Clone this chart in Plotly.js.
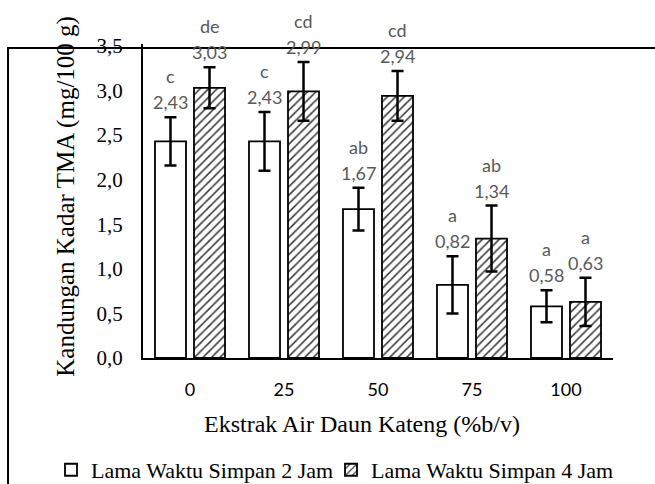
<!DOCTYPE html>
<html>
<head>
<meta charset="utf-8">
<script src="https://cdn.plot.ly/plotly-3.0.1.min.js"></script>
<style>html,body{margin:0;padding:0;background:#fff;}#chart{width:655px;height:484px;}</style>
</head>
<body>
<div id="chart"></div>
<script>
// ---- data ----
const categories = ['0', '25', '50', '75', '100'];
const seriesNames = ['Lama Waktu Simpan 2 Jam', 'Lama Waktu Simpan 4 Jam'];
const values2h = [2.43, 2.43, 1.67, 0.82, 0.58];
const values4h = [3.03, 2.99, 2.94, 1.34, 0.63];
const errors2h = [0.27, 0.33, 0.24, 0.32, 0.18];
const errors4h = [0.23, 0.33, 0.28, 0.37, 0.27];
const letters2h = ['c', 'c', 'ab', 'a', 'a'];
const letters4h = ['de', 'cd', 'cd', 'ab', 'a'];
const yTickVals = [0, 0.5, 1, 1.5, 2, 2.5, 3, 3.5];
const xTitle = 'Ekstrak Air Daun Kateng (%b/v)';
const yTitle = 'Kandungan Kadar TMA (mg/100 g)';

const serif = 'Liberation Serif';
const sans = 'Lato';
const fmt = v => v.toFixed(2).replace('.', ',');

const errStyle = {type: 'data', visible: true, color: '#000', thickness: 2.5, width: 6};

const traces = [
  {
    type: 'bar', name: seriesNames[0], x: categories, y: values2h, legend: 'legend',
    marker: {color: '#fff', line: {color: '#000', width: 1.8}},
    error_y: Object.assign({array: errors2h}, errStyle)
  },
  {
    type: 'bar', name: seriesNames[1], x: categories, y: values4h, legend: 'legend2',
    marker: {color: '#fff', line: {color: '#000', width: 1.8},
      pattern: {shape: '/', fgcolor: '#333', bgcolor: '#fff', size: 6, solidity: 0.25}},
    error_y: Object.assign({array: errors4h}, errStyle)
  }
];

const annotations = [];
const groups = [
  {vals: values2h, errs: errors2h, letters: letters2h, shift: -19.5},
  {vals: values4h, errs: errors4h, letters: letters4h, shift: 19.5}
];
groups.forEach(g => {
  categories.forEach((c, i) => {
    const top = g.vals[i] + g.errs[i];
    annotations.push({x: i, y: top, xref: 'x', yref: 'y', text: fmt(g.vals[i]), showarrow: false,
      xshift: g.shift, yshift: 15, yanchor: 'middle', font: {family: sans, size: 18, color: '#595959'}});
    annotations.push({x: i, y: top, xref: 'x', yref: 'y', text: g.letters[i], showarrow: false,
      xshift: g.shift, yshift: 41, yanchor: 'middle', font: {family: sans, size: 18, color: '#595959'}});
  });
});
annotations.push({xref: 'paper', yref: 'paper', x: 0.466, y: -0.21, text: xTitle, showarrow: false,
  xanchor: 'center', yanchor: 'middle', font: {family: serif, size: 24, color: '#000'}});
annotations.push({xref: 'paper', yref: 'paper', x: -0.163, y: 0.515, text: yTitle, showarrow: false,
  textangle: -90, xanchor: 'center', yanchor: 'middle', font: {family: serif, size: 25, color: '#000'}});

const legendStyle = {orientation: 'h', xref: 'container', yref: 'container', xanchor: 'left', y: 0.029, yanchor: 'middle',
  font: {family: serif, size: 22, color: '#000'}, itemwidth: 30, bgcolor: 'rgba(0,0,0,0)', borderwidth: 0};

const layout = {
  width: 655, height: 484,
  margin: {l: 143, r: 42, t: 44, b: 126},
  paper_bgcolor: '#fff', plot_bgcolor: '#fff',
  separators: ',.',
  barmode: 'group', bargap: 0.17, bargroupgap: 0.205,
  showlegend: true,
  legend: Object.assign({x: 51 / 655}, legendStyle),
  legend2: Object.assign({x: 331 / 655}, legendStyle),
  xaxis: {type: 'category', range: [-0.5, 4.5], showline: true, linecolor: '#000', linewidth: 2, showgrid: false, zeroline: false,
    ticks: '', ticklabelstandoff: 14, tickfont: {family: sans, size: 18, color: '#000'}, fixedrange: true},
  yaxis: {range: [0, 3.522], tickvals: yTickVals, tickformat: '.1f', showline: true, linecolor: '#000', linewidth: 2,
    showgrid: false, zeroline: false, ticks: '', ticklabelstandoff: 14,
    tickfont: {family: serif, size: 21, color: '#000'}, fixedrange: true},
  shapes: [{type: 'rect', xref: 'paper', yref: 'paper', x0: -0.2872, x1: 1.3, y0: -0.6, y1: 0.987,
    line: {color: '#000', width: 2}, fillcolor: 'rgba(0,0,0,0)', layer: 'above'}],
  annotations: annotations
};

Plotly.newPlot('chart', traces, layout, {staticPlot: true, displayModeBar: false});
</script>
</body>
</html>
